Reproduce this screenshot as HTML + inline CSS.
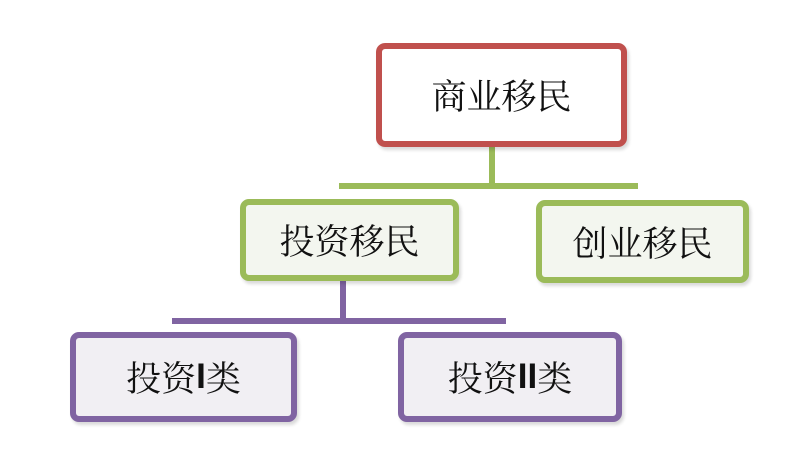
<!DOCTYPE html>
<html><head><meta charset="utf-8"><style>
body{margin:0;width:805px;height:470px;background:#fff;position:relative;overflow:hidden;font-family:"Liberation Serif","Noto Serif CJK SC",serif;}
.b{position:absolute;box-sizing:border-box;border:6px solid;border-radius:9px;display:flex;align-items:center;justify-content:center;font-size:35px;color:#111;box-shadow:2px 3px 3px rgba(0,0,0,0.15);}
.l{position:absolute;}
</style></head><body>
<div class="l" style="left:489px;top:145px;width:6px;height:42px;background:#9bbb59"></div>
<div class="l" style="left:339px;top:183px;width:299px;height:6px;background:#9bbb59"></div>
<div class="l" style="left:340px;top:278px;width:6px;height:45px;background:#8064a2"></div>
<div class="l" style="left:172px;top:318px;width:334px;height:6px;background:#8064a2"></div>
<div class="b" style="left:376px;top:43px;width:251px;height:104px;border-color:#c0504d;background:#fff">商业移民</div>
<div class="b" style="left:240px;top:199px;width:219px;height:82px;border-color:#9bbb59;background:#f3f6ef">投资移民</div>
<div class="b" style="left:536px;top:200px;width:213px;height:83px;border-color:#9bbb59;background:#f3f6ef">创业移民</div>
<div class="b" style="left:70px;top:332px;width:227px;height:90px;border-color:#8064a2;background:#f1eff3">投资<b style="font-family:'Liberation Sans'">I</b>类</div>
<div class="b" style="left:398px;top:332px;width:224px;height:90px;border-color:#8064a2;background:#f1eff3">投资<b style="font-family:'Liberation Sans'">II</b>类</div>
</body></html>
